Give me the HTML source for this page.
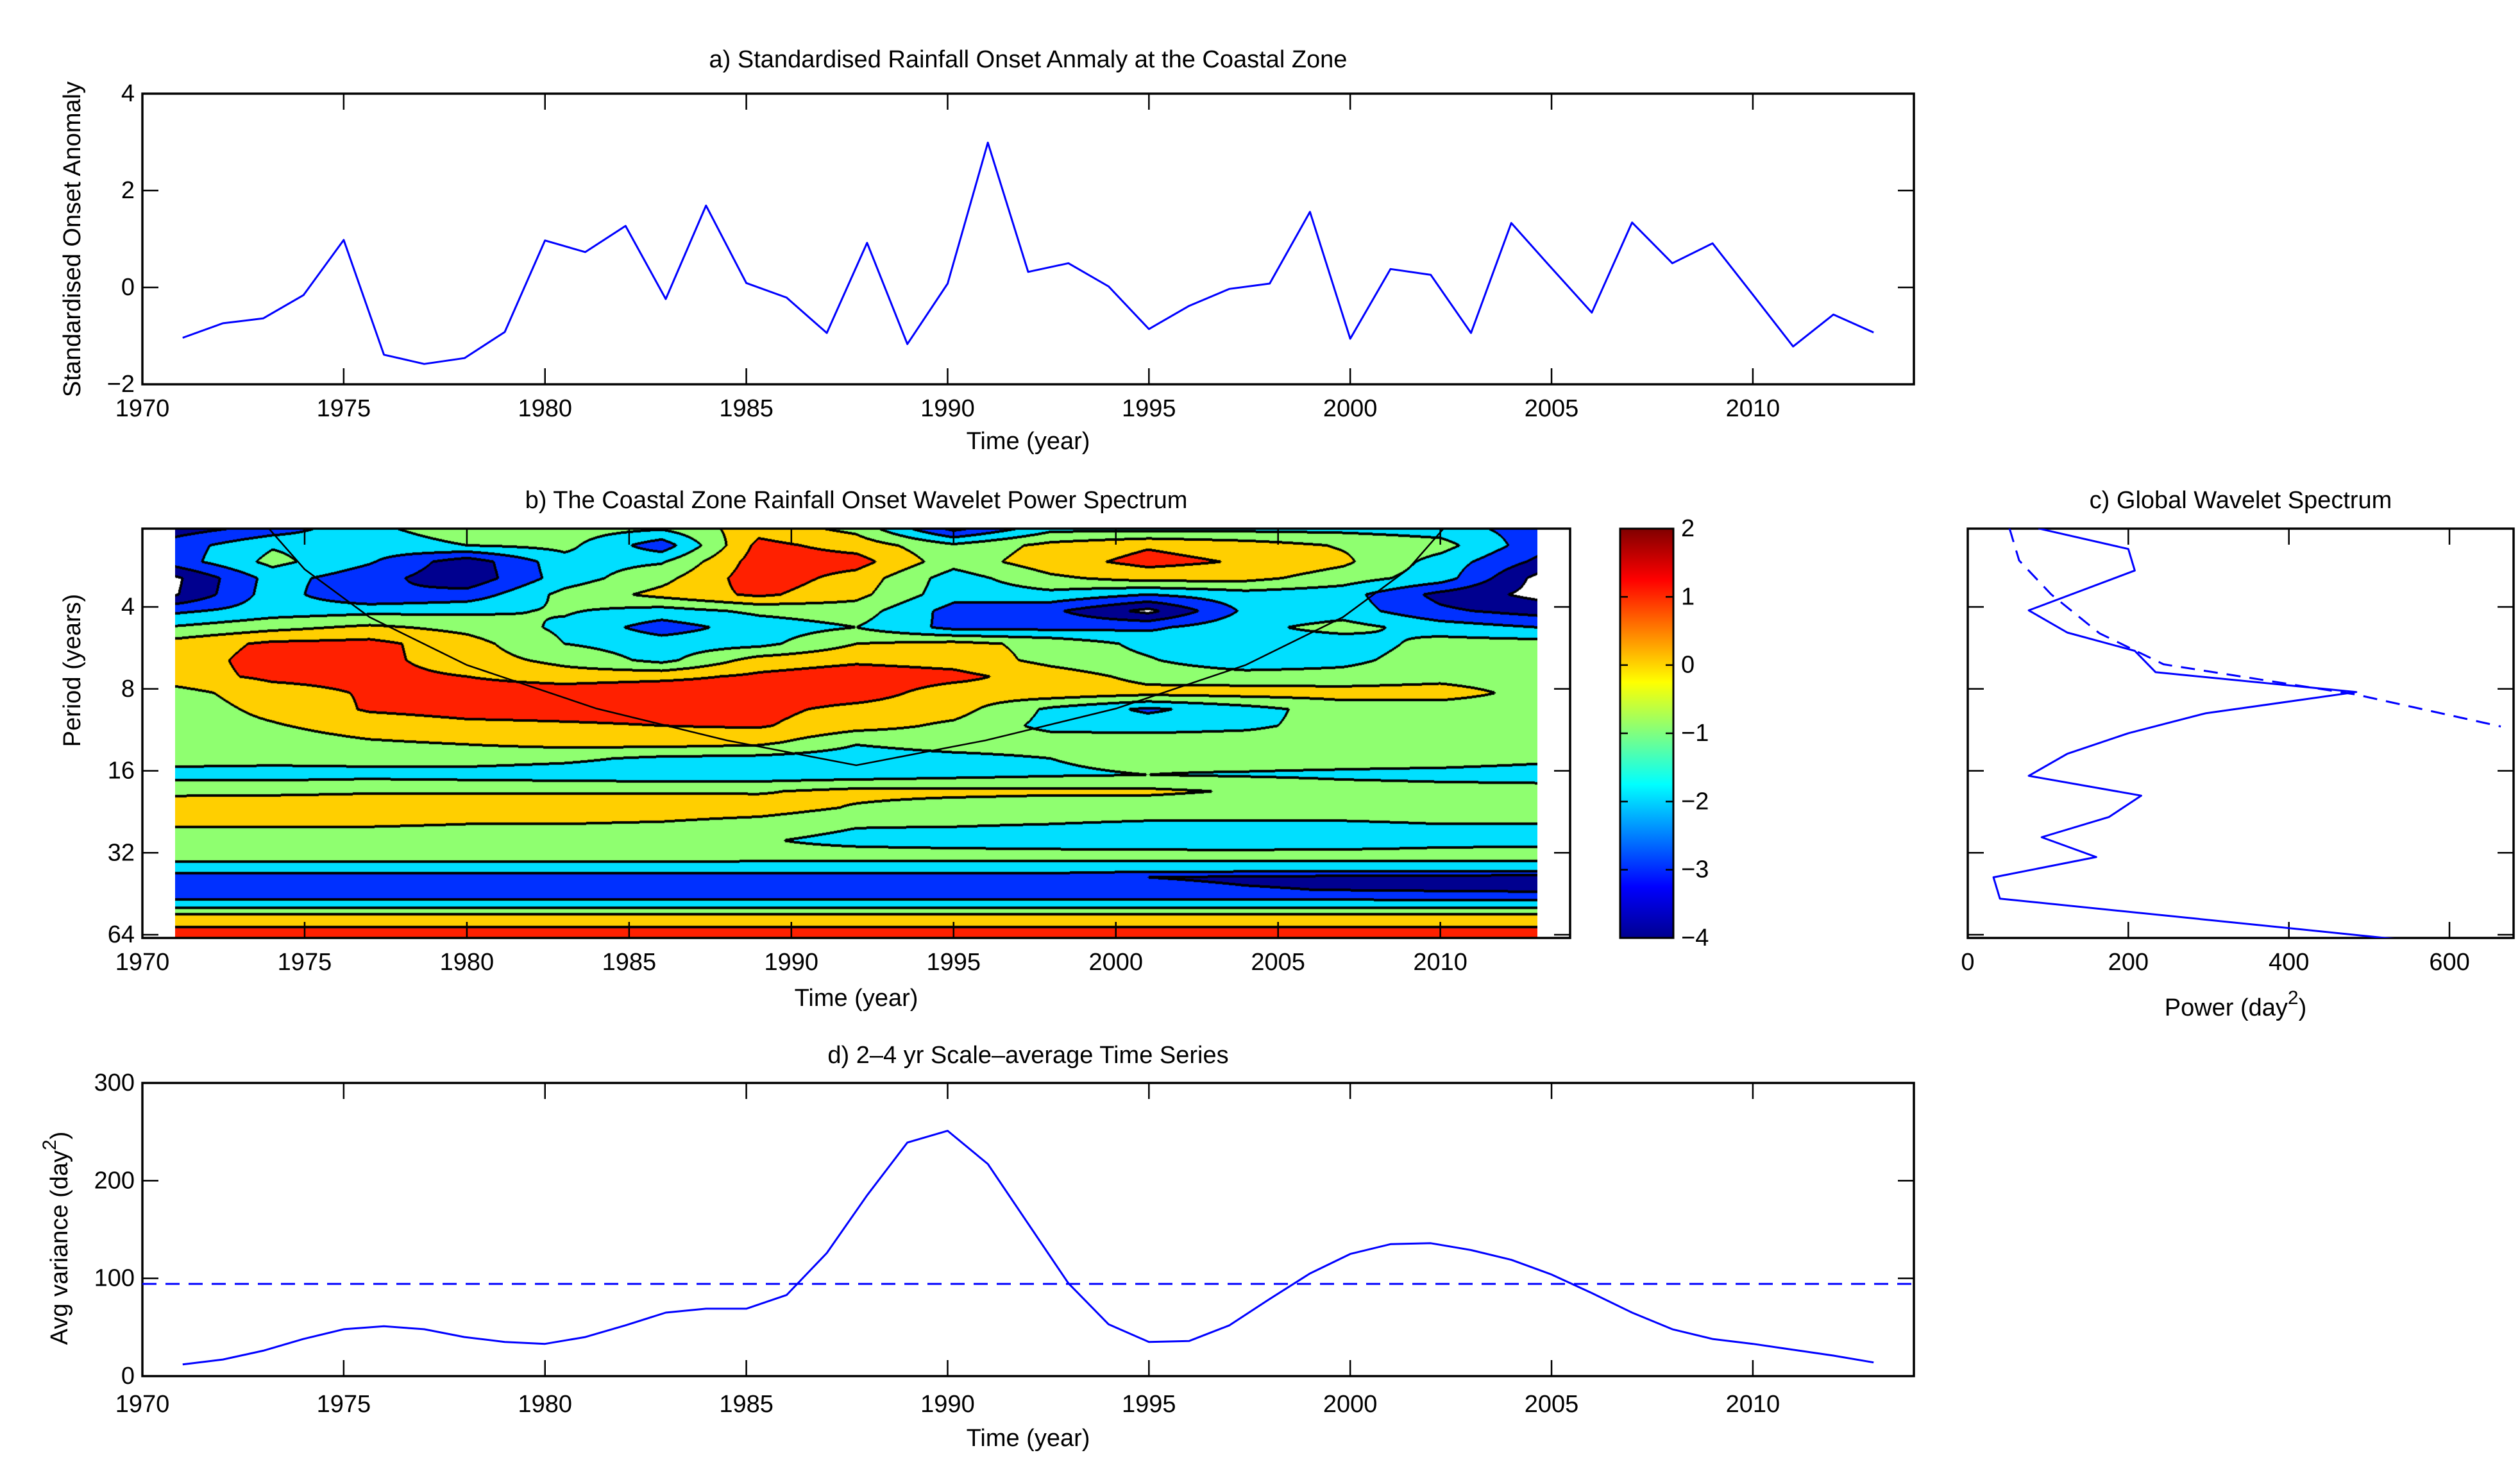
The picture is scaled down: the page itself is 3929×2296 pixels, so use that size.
<!DOCTYPE html>
<html><head><meta charset="utf-8">
<style>
html,body{margin:0;padding:0;background:#fff;}
#wrap{position:relative;width:3929px;height:2296px;overflow:hidden;background:#fff;}
svg{position:absolute;left:0;top:0;}
canvas{position:absolute;}
text{font-family:"Liberation Sans",Arial,sans-serif;fill:#000;}
</style></head>
<body>
<div id="wrap">
<canvas id="cv"></canvas>
<svg id="sv" width="3929" height="2296" viewBox="0 0 3929 2296"></svg>
</div>
<script>
// ---------- data ----------
const years = [1971,1972,1973,1974,1975,1976,1977,1978,1979,1980,1981,1982,1983,1984,1985,1986,1987,1988,1989,1990,1991,1992,1993,1994,1995,1996,1997,1998,1999,2000,2001,2002,2003,2004,2005,2006,2007,2008,2009,2010,2011,2012,2013];
const onsetAnomaly = [-1.04,-0.74,-0.64,-0.16,0.98,-1.39,-1.58,-1.46,-0.92,0.97,0.73,1.27,-0.24,1.69,0.09,-0.21,-0.94,0.92,-1.17,0.08,2.99,0.32,0.50,0.02,-0.86,-0.38,-0.03,0.08,1.56,-1.06,0.38,0.26,-0.94,1.33,0.40,-0.52,1.34,0.50,0.91,-0.15,-1.22,-0.56,-0.93];
const scaleAvg = [12,17,26,38,48,51,48,40,35,33,40,52,65,69,69,83,126,185,239,251,217,156,95,53,35,36,52,79,105,125,135,136,129,119,104,85,65,48,38,33,27,21,14];
const scaleAvgSignif = 94.4;
const gwsPeriods = [2.06,2.45,2.94,4.12,4.97,5.80,6.95,8.22,9.84,11.64,13.85,16.69,19.74,23.64,28.05,33.17,39.39,47.15,66.7];
const gwsPower = [88,200,208,76,124,208,234,484,296,200,124,76,216,176,92,160,32,40,540];
const gwsSigPeriods = [2.06,2.7,3.6,5.0,6.5,8.4,11.0];
const gwsSigPower = [52,64,104,164,244,484,664];
const coiYears = [1972.2,1973.5,1975,1977,1980,1984,1988,1992,1996,2000,2004,2007,2009,2010.5,2011.8];
const coiPeriods = [0.9,1.82,2.91,4.36,6.54,9.45,12.36,15.27,12.36,9.45,6.54,4.36,2.91,1.82,0.9];
const colYears = [1971,1974,1977,1980,1983,1986,1989,1992,1995,1998,2001,2004,2007,2010,2013];
const rowsLog2 = [1.046,1.25,1.45,1.65,1.85,2.05,2.25,2.45,2.65,2.85,3.05,3.25,3.45,3.65,3.85,4.05,4.25,4.45,4.65,4.85,5.0,5.12,5.2,5.3,5.45,5.58,5.65,5.72,5.8,5.88,5.95,6.04];
const powerGrid = [
[-3.5,-2.6,-1.2,-0.5,-0.5,-0.9,0.6,-0.3,-3.3,-1.3,-1.3,-1.3,-1.3,-1.5,-2.5],
[-2.5,-1.1,-1.5,-1.0,-0.7,-2.6,1.3,0.6,-0.8,0.3,0.9,0.5,-0.1,-0.6,-2.6],
[-2.5,-0.7,-1.9,-3.6,-1.4,-1.1,1.5,1.4,-0.6,0.6,1.3,0.9,0.2,-1.4,-3.2],
[-4.2,-1.6,-2.6,-3.7,-1.5,-0.3,1.6,0.6,-1.5,-0.2,0.4,0.3,-0.5,-1.5,-4.3],
[-4.1,-1.5,-3.0,-2.6,-0.7,0.3,1.2,0.3,-1.6,-1.3,-2.0,-1.4,-1.6,-3.3,-4.3],
[-2.2,-1.5,-1.3,-1.2,-0.9,-1.4,-0.8,-0.5,-2.4,-2.8,-4.3,-1.8,-1.5,-2.8,-3.4],
[-0.9,-0.3,0.2,-0.3,-1.2,-2.5,-1.5,-1.0,-2.3,-2.3,-2.2,-1.3,-0.6,-1.5,-2.0],
[0.4,1.2,1.3,0.4,-1.0,-1.5,-1.3,0.0,0.3,-0.3,-1.3,-1.5,-1.6,-0.6,-0.6],
[0.5,1.4,1.3,0.5,-0.3,-1.3,0.4,0.8,0.6,-0.3,-0.9,-1.8,-1.3,-0.4,-0.4],
[0.6,1.2,1.3,1.0,0.5,0.7,1.2,1.6,1.3,0.5,-0.3,-0.5,-0.6,-0.3,-0.5],
[-0.4,0.6,1.1,1.5,1.6,1.8,1.6,1.5,0.5,0.6,0.3,0.4,0.4,0.4,-0.3],
[-0.6,0.3,1.1,1.3,1.3,1.3,1.3,0.7,0.4,-1.2,-2.2,-1.4,-0.5,-0.5,-0.5],
[-0.6,-0.1,0.5,0.8,0.9,1.0,1.1,0.4,-0.2,-1.3,-1.4,-1.2,-0.6,-0.6,-0.6],
[-0.5,-0.5,-0.1,0.1,0.4,0.5,0.3,-0.9,-0.5,-0.5,-0.5,-0.5,-0.5,-0.5,-0.5],
[-0.6,-0.7,-0.7,-0.6,-0.8,-1.2,-1.3,-1.5,-1.3,-1.0,-0.8,-0.6,-0.6,-0.6,-0.8],
[-1.4,-1.4,-1.3,-1.4,-1.5,-1.6,-1.6,-1.5,-1.3,-1.1,-1.0,-1.1,-1.2,-1.3,-1.4],
[-0.2,-0.2,-0.1,-0.1,-0.1,-0.1,-0.1,0.3,0.3,0.2,0.2,-0.1,-0.5,-0.6,-0.6],
[0.5,0.6,0.6,0.6,0.6,0.6,0.5,-0.1,-0.5,-0.6,-0.6,-0.6,-0.6,-0.6,-0.6],
[0.1,0.1,0.1,0.0,0.0,-0.1,-0.4,-0.9,-0.9,-1.0,-1.1,-1.1,-1.1,-1.0,-1.0],
[-0.5,-0.5,-0.5,-0.5,-0.5,-0.5,-0.9,-1.3,-1.5,-1.7,-1.9,-2.0,-1.8,-1.4,-1.3],
[-0.4,-0.5,-0.5,-0.5,-0.5,-0.5,-0.7,-0.7,-0.7,-0.7,-0.7,-0.7,-0.7,-0.7,-0.7],
[-1.05,-1.05,-1.05,-1.05,-1.05,-1.05,-1.05,-1.05,-1.05,-1.05,-1.05,-1.05,-1.05,-1.05,-1.05],
[-1.5,-1.5,-1.5,-1.5,-1.5,-1.5,-1.5,-1.5,-1.5,-1.5,-1.5,-1.5,-1.5,-1.5,-1.5],
[-2.5,-2.5,-2.5,-2.5,-2.5,-2.5,-2.5,-2.5,-2.5,-2.5,-3.0,-3.2,-3.3,-3.4,-3.5],
[-2.5,-2.5,-2.5,-2.5,-2.5,-2.5,-2.5,-2.5,-2.5,-2.5,-2.6,-2.9,-3.05,-3.15,-3.25],
[-1.95,-1.95,-1.95,-1.95,-1.95,-1.95,-1.95,-1.95,-1.95,-1.95,-1.95,-1.95,-1.95,-1.95,-1.95],
[-1.3,-1.3,-1.3,-1.3,-1.3,-1.3,-1.3,-1.3,-1.3,-1.3,-1.3,-1.3,-1.3,-1.3,-1.3],
[-0.3,-0.3,-0.3,-0.3,-0.3,-0.3,-0.3,-0.3,-0.3,-0.3,-0.3,-0.3,-0.3,-0.3,-0.3],
[0.5,0.5,0.5,0.5,0.5,0.5,0.5,0.5,0.5,0.5,0.5,0.5,0.5,0.5,0.5],
[0.7,0.7,0.7,0.7,0.7,0.7,0.7,0.7,0.7,0.7,0.7,0.7,0.7,0.7,0.7],
[1.4,1.4,1.4,1.4,1.4,1.4,1.4,1.4,1.4,1.4,1.4,1.4,1.4,1.4,1.4],
[1.5,1.5,1.5,1.5,1.5,1.5,1.5,1.5,1.5,1.5,1.5,1.5,1.5,1.5,1.5]
];
const yearTicks = [1970,1975,1980,1985,1990,1995,2000,2005,2010];
const aTicks = [-2,0,2,4];
const aTickLabels = ["\u22122","0","2","4"];
const periodTicks = [4,8,16,32,64];
const powerTicks = [0,200,400,600];
const dTicks = [0,100,200,300];
const cbTicks = [-4,-3,-2,-1,0,1,2];
const cbTickLabels = ["\u22124","\u22123","\u22122","\u22121","0","1","2"];
const bandColors = ["#ffffff","#00008f","#0030ff","#00dfff","#8fff70","#ffcf00","#ff2000","#800000"];

// ---------- axes ----------
const A = {l:222,r:2984,t:146,b:599};
const B = {l:222,r:2448,t:824,b:1462};
const C = {l:3068,r:3919,t:824,b:1462};
const D = {l:222,r:2984,t:1688,b:2145};
const CB = {l:2526,r:2609,t:824,b:1462};
const xa = y => A.l + (y-1970)*(A.r-A.l)/44;
const ya = v => A.b - (v+2)*(A.b-A.t)/6;
const xb = y => B.l + (y-1970)*(B.r-B.l)/44;
const yb = lg => 946 + (lg-2)*127.75;
const yp = p => yb(Math.log2(p));
const xc = p => C.l + p*1.2517;
const xd = xa;
const yd = v => D.b - v*(D.b-D.t)/300;
const ycb = v => CB.b - (v+4)*(CB.b-CB.t)/6;

const NS = "http://www.w3.org/2000/svg";
const sv = document.getElementById('sv');
function mk(tag, at, parent){ const e=document.createElementNS(NS,tag); for(const k in at) e.setAttribute(k,at[k]); (parent||sv).appendChild(e); return e; }
function txt(s,x,y,anchor,name,rot){ const t=mk('text',{x:x,y:y,'font-size':38,'text-anchor':anchor||'middle','dominant-baseline':'central'}); if(rot) t.setAttribute('transform','rotate(-90 '+x+' '+y+')'); t.textContent=s;
 
  return t; }

// ---------- contour canvas ----------
(function(){
 const cv=document.getElementById('cv');
 const x0=Math.round(xb(1971)), x1=Math.round(xb(2013));
 const y0=Math.round(yb(rowsLog2[0])), y1=Math.round(yb(rowsLog2[rowsLog2.length-1]));
 const W=x1-x0, H=y1-y0;
 cv.width=W; cv.height=H; cv.style.left=x0+'px'; cv.style.top=y0+'px';
 const ctx=cv.getContext('2d'); const img=ctx.createImageData(W,H);
 const band=new Int8Array(W*H);
 const nr=rowsLog2.length, nc=colYears.length;
 const rowIdx=[], rowT=[];
 for(let py=0;py<H;py++){ const lg=rowsLog2[0]+(py+0.5)/H*(rowsLog2[nr-1]-rowsLog2[0]); let r=0; while(r<nr-2 && rowsLog2[r+1]<lg) r++; rowIdx.push(r); rowT.push(Math.min(1,Math.max(0,(lg-rowsLog2[r])/(rowsLog2[r+1]-rowsLog2[r])))); }
 for(let px=0;px<W;px++){ const yr=1971+(px+0.5)/W*42; let c=0; while(c<nc-2 && colYears[c+1]<yr) c++; const tx=(yr-colYears[c])/(colYears[c+1]-colYears[c]);
  for(let py=0;py<H;py++){ const r=rowIdx[py], ty=rowT[py];
   const v=(powerGrid[r][c]*(1-tx)+powerGrid[r][c+1]*tx)*(1-ty)+(powerGrid[r+1][c]*(1-tx)+powerGrid[r+1][c+1]*tx)*ty;
   let bnd=Math.floor(v)+5; if(bnd<0)bnd=0; if(bnd>7)bnd=7; band[py*W+px]=bnd; } }
 const rgb=bandColors.map(h=>[parseInt(h.substr(1,2),16),parseInt(h.substr(3,2),16),parseInt(h.substr(5,2),16)]);
 for(let py=0;py<H;py++) for(let px=0;px<W;px++){ const i=py*W+px; const b=band[i]; let edge=false;
  for(let d=-2; d<=2 && !edge; d++){ const qx=px+d; if(qx>=0&&qx<W&&band[py*W+qx]!==b) edge=true; const qy=py+d; if(qy>=0&&qy<H&&band[qy*W+px]!==b) edge=true; }
  const col=edge?[0,0,0]:rgb[b]; img.data[i*4]=col[0]; img.data[i*4+1]=col[1]; img.data[i*4+2]=col[2]; img.data[i*4+3]=255; }
 ctx.putImageData(img,0,0);
})();

// ---------- defs ----------
const defs=mk('defs',{});
const grad=mk('linearGradient',{id:'jet',x1:0,y1:1,x2:0,y2:0},defs);
[[0,'#00008f'],[0.125,'#0000ff'],[0.375,'#00ffff'],[0.625,'#ffff00'],[0.875,'#ff0000'],[1,'#800000']].forEach(s=>mk('stop',{offset:s[0],'stop-color':s[1]},grad));
const cp=mk('clipPath',{id:'clipB'},defs); mk('rect',{x:xb(1971),y:B.t,width:xb(2013)-xb(1971),height:B.b-B.t},cp);
const cpc=mk('clipPath',{id:'clipC'},defs); mk('rect',{x:C.l,y:C.t,width:C.r-C.l,height:C.b-C.t},cpc);

function box(R,name){ const r=mk('rect',{x:R.l,y:R.t,width:R.r-R.l,height:R.b-R.t,fill:'none',stroke:'#000','stroke-width':3.5});
 
  }
function xticks(R,vals,fx,labels,ly,name,inner){ vals.forEach((v,i)=>{ const x=fx(v);
  if(inner!==false){ mk('line',{x1:x,y1:R.b,x2:x,y2:R.b-25,stroke:'#000','stroke-width':2.5}); mk('line',{x1:x,y1:R.t,x2:x,y2:R.t+25,stroke:'#000','stroke-width':2.5}); }
  txt(labels[i],x,ly,'middle',name+'-'+labels[i]); }); }
function yticks(R,vals,fy,labels,name){ vals.forEach((v,i)=>{ const y=fy(v);
  mk('line',{x1:R.l,y1:y,x2:R.l+25,y2:y,stroke:'#000','stroke-width':2.5}); mk('line',{x1:R.r,y1:y,x2:R.r-25,y2:y,stroke:'#000','stroke-width':2.5});
  if(labels) txt(labels[i],R.l-12,y,'end',name+'-'+labels[i]); }); }
function poly(xs,ys,fx,fy,name,dash,clip){ const pts=xs.map((x,i)=>fx(x).toFixed(1)+','+fy(ys[i]).toFixed(1)).join(' ');
 const p=mk('polyline',{points:pts,fill:'none',stroke:'#0000ff','stroke-width':3,'stroke-linejoin':'round'});
 if(dash) p.setAttribute('stroke-dasharray','22,14'); if(clip) p.setAttribute('clip-path',clip);
 
  return p; }

// ---------- panel a ----------
box(A,'panel-a-axes');
xticks(A,yearTicks,xa,yearTicks.map(String),637,'panel-a-x-tick');
yticks(A,aTicks,ya,aTickLabels,'panel-a-y-tick');
poly(years,onsetAnomaly,xa,ya,'onset-anomaly-line');
txt('a) Standardised Rainfall Onset Anmaly at the Coastal Zone',(A.l+A.r)/2,93,'middle','panel-a-title');
txt('Time (year)',(A.l+A.r)/2,688,'middle','panel-a-x-axis-title');
txt('Standardised Onset Anomaly',113,373,'middle','panel-a-y-axis-title',true);

// ---------- panel b ----------
const coi=mk('polyline',{points:coiYears.map((y,i)=>xb(y).toFixed(1)+','+yp(coiPeriods[i]).toFixed(1)).join(' '),fill:'none',stroke:'#000','stroke-width':2.5,'clip-path':'url(#clipB)'});


box(B,'panel-b-axes');
xticks(B,yearTicks,xb,yearTicks.map(String),1500,'panel-b-x-tick');
yticks(B,periodTicks,yp,periodTicks.map(String),'panel-b-y-tick');
txt('b) The Coastal Zone Rainfall Onset Wavelet Power Spectrum',(B.l+B.r)/2,780,'middle','panel-b-title');
txt('Time (year)',(B.l+B.r)/2,1556,'middle','panel-b-x-axis-title');
txt('Period (years)',113,1045,'middle','panel-b-y-axis-title',true);

// ---------- colorbar ----------
const cb=mk('rect',{x:CB.l,y:CB.t,width:CB.r-CB.l,height:CB.b-CB.t,fill:'url(#jet)',stroke:'#000','stroke-width':3});


cbTicks.forEach((v,i)=>{ const y=ycb(v); mk('line',{x1:CB.r,y1:y,x2:CB.r-12,y2:y,stroke:'#000','stroke-width':2.5}); mk('line',{x1:CB.l,y1:y,x2:CB.l+12,y2:y,stroke:'#000','stroke-width':2.5}); txt(cbTickLabels[i],CB.r+12,y,'start','colorbar-tick-'+cbTickLabels[i]); });

// ---------- panel c ----------
box(C,'panel-c-axes');
xticks(C,powerTicks,xc,powerTicks.map(String),1500,'panel-c-x-tick');
yticks(C,periodTicks,yp,null,'panel-c-y-tick');
poly(gwsPower,gwsPeriods,xc,yp,'global-wavelet-line',false,'url(#clipC)');
poly(gwsSigPower,gwsSigPeriods,xc,yp,'global-significance-line',true,'url(#clipC)');
txt('c) Global Wavelet Spectrum',(C.l+C.r)/2,780,'middle','panel-c-title');
const pl=txt('Power (day',(C.l+C.r)/2-8,1571,'middle','panel-c-x-axis-title');
const sup=mk('tspan',{dy:-16,'font-size':30},pl); sup.textContent='2';
const cl=mk('tspan',{dy:16},pl); cl.textContent=')';

// ---------- panel d ----------
box(D,'panel-d-axes');
xticks(D,yearTicks,xd,yearTicks.map(String),2189,'panel-d-x-tick');
yticks(D,dTicks,yd,dTicks.map(String),'panel-d-y-tick');
poly(years,scaleAvg,xd,yd,'scale-average-line');
const sig=mk('line',{x1:D.l,y1:yd(scaleAvgSignif),x2:D.r,y2:yd(scaleAvgSignif),stroke:'#0000ff','stroke-width':3,'stroke-dasharray':'22,14'});


txt('d) 2\u20134 yr Scale\u2013average Time Series',(D.l+D.r)/2,1645,'middle','panel-d-title');
txt('Time (year)',(D.l+D.r)/2,2242,'middle','panel-d-x-axis-title');
const dl=txt('Avg variance (day',93,1930,'middle','panel-d-y-axis-title',true);
const s2=mk('tspan',{dy:-16,'font-size':30},dl); s2.textContent='2';
const c2=mk('tspan',{dy:16},dl); c2.textContent=')';
</script>
</body></html>
